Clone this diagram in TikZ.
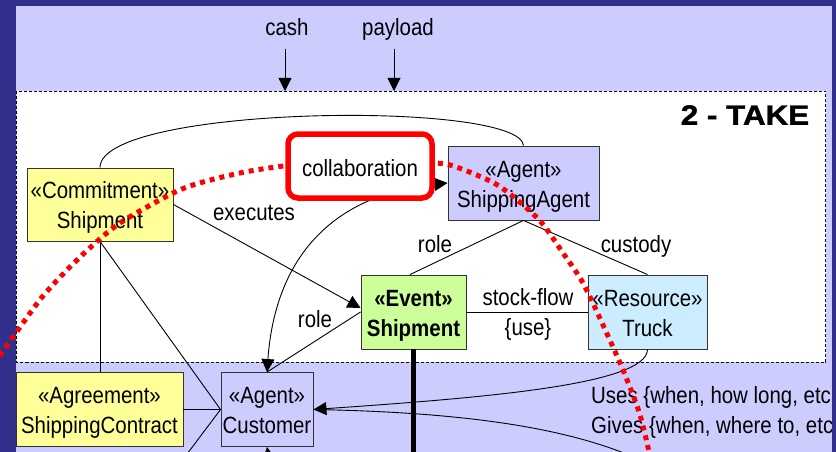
\documentclass[tikz,border=0pt]{standalone}
\usepackage{fontspec}
\setmainfont[FakeStretch=0.87]{Liberation Sans}
\newfontfamily\titlefont[BoldFeatures={FakeBold=1.3}]{Liberation Sans}
\usepackage{graphicx}
\usetikzlibrary{arrows.meta}
\definecolor{darkbg}{RGB}{48,48,140}
\definecolor{lav}{RGB}{204,204,255}
\definecolor{yel}{RGB}{255,255,153}
\definecolor{grn}{RGB}{204,255,153}
\definecolor{lblue}{RGB}{204,236,255}
\newcommand\mainfs{\fontsize{23.5}{30}\selectfont}
\tikzset{
  box/.style={draw=black!80, line width=0.9pt, inner sep=0pt, align=center,
    font=\mainfs, text height=50pt, text depth=2pt},
  lbl/.style={inner sep=0pt, font=\mainfs, anchor=base},
  con/.style={draw=black, line width=0.9pt},
  tip/.style={-{Triangle[length=13pt,width=13pt]}},
  bothtip/.style={{Triangle[length=13pt,width=13pt]}-{Triangle[length=13pt,width=13pt]}},
  reddots/.style={draw=red, line width=5pt, dash pattern=on 5pt off 5pt},
}
\begin{document}
\begin{tikzpicture}[x=1pt,y=-1pt]
\useasboundingbox (0,0) rectangle (836,452);
\clip (0,0) rectangle (836,452);
\fill[darkbg] (0,0) rectangle (836,452);
\fill[lav] (16,6) rectangle (832,452);
\draw[fill=white, dash pattern=on 3pt off 2pt, line width=0.8pt] (16.5,91) rectangle (825.5,362);

% top labels and arrows
\node[lbl] (cash) at (287,36) {cash};
\node[lbl] (payload) at (398,36) {payload};
\coordinate (cashtop) at (285,49);
\coordinate (cashend) at (285,91);
\coordinate (paytop) at (394,49);
\coordinate (payend) at (394,91);
\draw[con,tip] (cashtop) -- (cashend);
\draw[con,tip] (paytop) -- (payend);

% title
\node[inner sep=0pt] (title) at (745,115)
  {\scalebox{1.12}[1]{\titlefont\bfseries\fontsize{28}{30}\selectfont 2 - TAKE}};

% boxes
\node[box, fill=yel, minimum width=146pt, minimum height=73pt] (commit) at (100,204.5) {«Commitment»\\Shipment};
\node[box, fill=lav, minimum width=151pt, minimum height=74pt] (sagent) at (523.5,183) {«Agent»\\ShippingAgent};
\node[box, fill=grn, minimum width=105pt, minimum height=74pt, font=\mainfs\bfseries] (event) at (413.5,312) {«Event»\\Shipment};
\node[box, fill=lblue, minimum width=119pt, minimum height=74pt] (truck) at (647.5,312) {«Resource»\\Truck};
\node[box, fill=yel, minimum width=167pt, minimum height=74pt] (agree) at (99.5,409.5) {«Agreement»\\ShippingContract};
\node[box, fill=lav, minimum width=92pt, minimum height=74pt] (cust) at (267,409.5) {«Agent»\\Customer};

% connectors
\draw[con] (commit.north) .. controls (100,105) and (520,100) .. (sagent.north);
\draw[con,tip] (commit.east) -- ([yshift=4pt]event.west);
\node[lbl] (executes) at (254,220) {executes};
\draw[con,bothtip] (cust.north) .. controls (275,260) and (330,195) .. (sagent.west);
\draw[con] (event.west) -- (cust.north);
\node[lbl] (role1) at (315,327) {role};
\draw[con] (sagent.south) -- ([xshift=-3.5pt]event.north);
\node[lbl] (role2) at (435,252) {role};
\draw[con] (sagent.south) -- (truck.north);
\node[lbl] (custody) at (636,252) {custody};
\draw[con] (event.east) -- (truck.west);
\node[lbl] (stockflow) at (528,305) {stock-flow};
\node[lbl] (use) at (528,335) {\{use\}};
\draw[con] (commit.south) -- (commit.south |- agree.north);
\draw[con] (commit.south) -- (cust.west);
\draw[con] (agree.east) -- (cust.west);
\coordinate (lowleft) at (175,470);
\draw[con] (cust.west) -- (lowleft);
\coordinate (lowmid) at (413.5,470);
\draw[draw=black, line width=5pt] (event.south) -- (lowmid);
\draw[con,tip] (truck.south) .. controls (647,385) and (480,398) .. (cust.east);
\coordinate (gives) at (660,470);
\draw[con] (cust.east) .. controls (450,412) and (580,425) .. (gives);
\coordinate (lowcust) at (274,490);
\draw[con,tip] (lowcust) -- (cust.south);

% texts on the right
\node[lbl, anchor=base west] (uses) at (591,403) {Uses \{when, how long, etc};
\node[lbl, anchor=base west] (givestxt) at (591,433) {Gives \{when, where to, etc};
\fill[darkbg] (832,0) rectangle (836,452);

% red dotted arc
\draw[reddots] plot[smooth] coordinates {(-12,372) (13,337) (43,296) (77,260) (113,228) (147,207) (187,187) (240,173) (292,165) (360,160) (436,163) (459,168) (494,183) (516,199) (541,222) (563,253) (583,283) (603,325) (623,370) (640,415) (652,465)};

% collaboration box
\node[draw=red, line width=5.5pt, rounded corners=10pt, fill=white, minimum width=144pt,
  minimum height=64pt, inner sep=0pt, font=\mainfs, text height=21pt, text depth=0pt] (collab) at (360,166) {collaboration};
\end{tikzpicture}
\end{document}
